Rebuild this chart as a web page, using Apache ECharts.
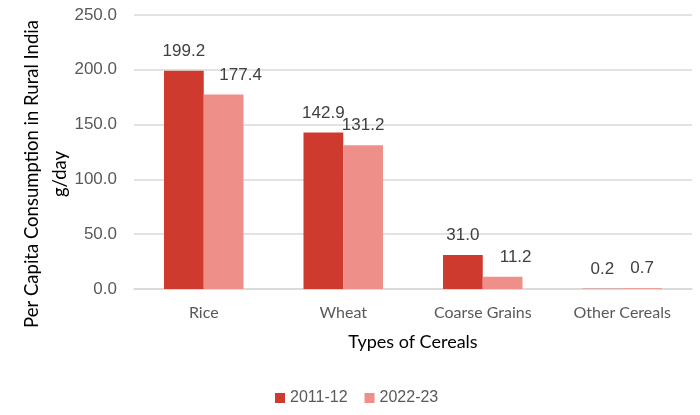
<!DOCTYPE html>
<html>
<head>
<meta charset="utf-8">
<script src="https://cdn.jsdelivr.net/npm/echarts@6/dist/echarts.min.js"></script>
<style>
  html, body { margin: 0; padding: 0; background: #fff; }
  #chart { width: 700px; height: 415px; }
</style>
</head>
<body>
<div id="chart"></div>
<script>
// values
const categories = ['Rice', 'Wheat', 'Coarse Grains', 'Other Cereals'];
const values2011 = [199.2, 142.9, 31.0, 0.2];
const values2022 = [177.4, 131.2, 11.2, 0.7];
const yTicks = [0, 50, 100, 150, 200, 250];

// horizontal nudge of the 2022-23 labels so they clear the neighbour label
const lightLabelShift = [17, 0, 13, 0];

const chart = echarts.init(document.getElementById('chart'));

const labelStyle = {
  show: true,
  position: 'top',
  distance: 11,
  color: '#404040',
  fontFamily: 'Liberation Sans',
  fontSize: 17,
  formatter: p => p.value.toFixed(1)
};

const option = {
  animation: false,
  grid: { left: 134, right: 8, top: 15, bottom: 126, outerBoundsMode: 'none', containLabel: false },
  legend: {
    bottom: 4,
    left: 270,
    itemWidth: 10,
    itemHeight: 10,
    itemGap: 17,
    icon: 'rect',
    textStyle: { color: '#595959', fontFamily: 'Liberation Sans', fontSize: 16 }
  },
  xAxis: {
    type: 'category',
    data: categories,
    name: 'Types of Cereals',
    nameLocation: 'middle',
    nameGap: 44,
    nameTextStyle: { color: '#000', fontFamily: 'Lato', fontSize: 18 },
    axisLine: { lineStyle: { color: '#d9d9d9', width: 1.5 } },
    axisTick: { show: false },
    axisLabel: { color: '#595959', fontFamily: 'Lato', fontSize: 16, margin: 16 }
  },
  yAxis: {
    type: 'value',
    min: yTicks[0],
    max: yTicks[yTicks.length - 1],
    interval: 50,
    name: 'Per Capita Consumption in Rural India\ng/day',
    nameLocation: 'middle',
    nameGap: 60,
    nameMoveOverlap: false,
    nameTextStyle: {
      color: '#000', fontFamily: 'Lato', fontSize: 18.5, lineHeight: 28,
      padding: [0, 44, 0, 0]
    },
    axisLine: { show: false },
    axisTick: { show: false },
    splitLine: { lineStyle: { color: '#d9d9d9', width: 1.5 } },
    axisLabel: {
      color: '#595959', fontFamily: 'Liberation Sans', fontSize: 17, margin: 17,
      formatter: v => v.toFixed(1)
    }
  },
  series: [
    {
      name: '2011-12',
      type: 'bar',
      data: values2011,
      barGap: '0%',
      barCategoryGap: '43%',
      itemStyle: { color: '#cf3a2f' },
      label: labelStyle
    },
    {
      name: '2022-23',
      type: 'bar',
      data: values2022.map((v, i) => ({
        value: v,
        label: { offset: [lightLabelShift[i], 0] }
      })),
      barGap: '0%',
      barCategoryGap: '43%',
      itemStyle: { color: '#ef8f8a' },
      label: labelStyle
    }
  ]
};

chart.setOption(option);
</script>
</body>
</html>
